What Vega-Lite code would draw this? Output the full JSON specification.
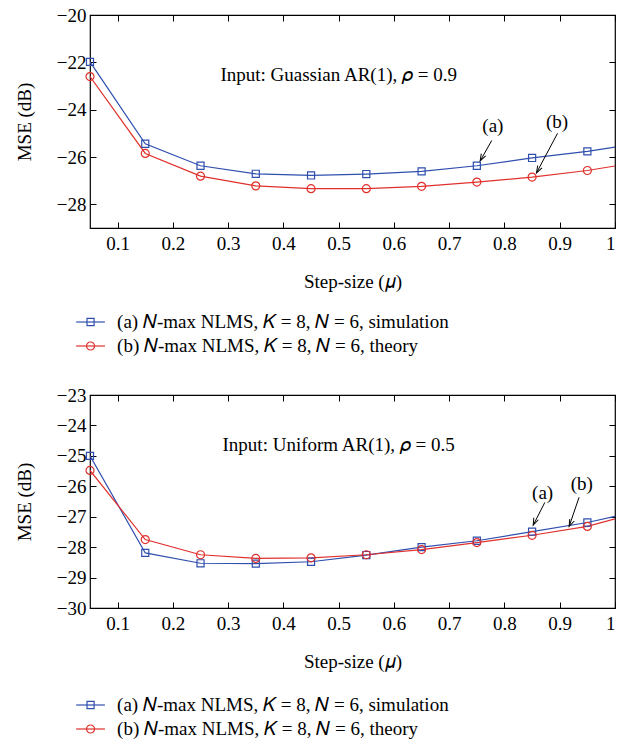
{
  "$schema": "https://vega.github.io/schema/vega-lite/v6.json",
  "padding": {"left": 14, "top": 5, "right": 2, "bottom": 0},
  "config": {
    "font": "Liberation Serif",
    "view": {"stroke": "black", "strokeWidth": 1.2},
    "axis": {"labelFont": "Liberation Serif", "labelFontSize": 19, "labelColor": "black", "titleFont": "Liberation Serif", "titleFontSize": 19, "titleFontWeight": "normal", "titleColor": "black", "domain": false, "grid": false, "tickColor": "black", "tickSize": -6, "labelPadding": 10},
    "axisBottom": {"labelPadding": 12, "labelFont": "Liberation Serif", "titleFont": "Liberation Serif"},
    "axisLeft": {"labelFont": "Liberation Serif", "titleFont": "Liberation Serif"},
    "text": {"font": "Liberation Serif", "fontSize": 19, "color": "black"}
  },
  "datasets": {
    "top": [
      {"mu": 0.05, "mse": -21.98, "series": "a"}, {"mu": 0.15, "mse": -25.44, "series": "a"}, {"mu": 0.25, "mse": -26.37, "series": "a"}, {"mu": 0.35, "mse": -26.71, "series": "a"}, {"mu": 0.45, "mse": -26.78, "series": "a"}, {"mu": 0.55, "mse": -26.72, "series": "a"}, {"mu": 0.65, "mse": -26.61, "series": "a"}, {"mu": 0.75, "mse": -26.37, "series": "a"}, {"mu": 0.85, "mse": -26.04, "series": "a"}, {"mu": 0.95, "mse": -25.76, "series": "a"}, {"mu": 1.0, "mse": -25.58, "series": "a"},
      {"mu": 0.05, "mse": -22.6, "series": "b"}, {"mu": 0.15, "mse": -25.85, "series": "b"}, {"mu": 0.25, "mse": -26.81, "series": "b"}, {"mu": 0.35, "mse": -27.22, "series": "b"}, {"mu": 0.45, "mse": -27.34, "series": "b"}, {"mu": 0.55, "mse": -27.34, "series": "b"}, {"mu": 0.65, "mse": -27.24, "series": "b"}, {"mu": 0.75, "mse": -27.06, "series": "b"}, {"mu": 0.85, "mse": -26.85, "series": "b"}, {"mu": 0.95, "mse": -26.57, "series": "b"}, {"mu": 1.0, "mse": -26.38, "series": "b"}
    ],
    "bottom": [
      {"mu": 0.05, "mse": -25.0, "series": "a"}, {"mu": 0.15, "mse": -28.19, "series": "a"}, {"mu": 0.25, "mse": -28.53, "series": "a"}, {"mu": 0.35, "mse": -28.54, "series": "a"}, {"mu": 0.45, "mse": -28.48, "series": "a"}, {"mu": 0.55, "mse": -28.26, "series": "a"}, {"mu": 0.65, "mse": -28.0, "series": "a"}, {"mu": 0.75, "mse": -27.79, "series": "a"}, {"mu": 0.85, "mse": -27.49, "series": "a"}, {"mu": 0.95, "mse": -27.19, "series": "a"}, {"mu": 1.0, "mse": -26.99, "series": "a"},
      {"mu": 0.05, "mse": -25.48, "series": "b"}, {"mu": 0.15, "mse": -27.75, "series": "b"}, {"mu": 0.25, "mse": -28.25, "series": "b"}, {"mu": 0.35, "mse": -28.37, "series": "b"}, {"mu": 0.45, "mse": -28.35, "series": "b"}, {"mu": 0.55, "mse": -28.25, "series": "b"}, {"mu": 0.65, "mse": -28.08, "series": "b"}, {"mu": 0.75, "mse": -27.85, "series": "b"}, {"mu": 0.85, "mse": -27.61, "series": "b"}, {"mu": 0.95, "mse": -27.32, "series": "b"}, {"mu": 1.0, "mse": -27.07, "series": "b"}
    ],
    "topNotes": [
      {"label": "(a)", "lx": 0.779, "ly": -24.7, "x1": 0.777, "y1": -25.3, "x2": 0.756, "y2": -26.17},
      {"label": "(b)", "lx": 0.895, "ly": -24.52, "x1": 0.896, "y1": -25.0, "x2": 0.858, "y2": -26.67}
    ],
    "bottomNotes": [
      {"label": "(a)", "lx": 0.869, "ly": -26.22, "x1": 0.873, "y1": -26.53, "x2": 0.852, "y2": -27.28},
      {"label": "(b)", "lx": 0.94, "ly": -25.92, "x1": 0.935, "y1": -26.36, "x2": 0.917, "y2": -27.32}
    ],
    "legend": [
      {"series": "a", "label": "(a) 𝑁-max NLMS, 𝐾 = 8, 𝑁 = 6, simulation"},
      {"series": "b", "label": "(b) 𝑁-max NLMS, 𝐾 = 8, 𝑁 = 6, theory"}
    ]
  },
  "spacing": 27,
  "vconcat": [
    {
      "spacing": 18,
      "vconcat": [
        {
          "width": 525, "height": 213,
          "resolve": {"axis": {"x": "independent", "y": "independent"}},
          "layer": [
            {
              "data": {"name": "top"},
              "mark": {"type": "line", "strokeWidth": 1.2, "clip": true},
              "encoding": {
                "x": {"field": "mu", "type": "quantitative", "scale": {"domain": [0.05, 1], "nice": false, "zero": false}, "axis": {"orient": "bottom", "title": "Step-size (𝜇)", "values": [0.1, 0.2, 0.3, 0.4, 0.5, 0.6, 0.7, 0.8, 0.9, 1], "format": "~g", "titlePadding": 19}},
                "y": {"field": "mse", "type": "quantitative", "scale": {"domain": [-29, -20], "nice": false, "zero": false}, "axis": {"orient": "left", "title": "MSE (dB)", "values": [-28, -26, -24, -22, -20], "format": "d", "titlePadding": 22}},
                "color": {"field": "series", "type": "nominal", "scale": {"domain": ["a", "b"], "range": ["#2f4fae", "#e0302c"]}, "legend": null}
              }
            },
            {
              "data": {"name": "top"},
              "transform": [{"filter": "datum.mu < 1"}],
              "mark": {"type": "point", "filled": false, "strokeWidth": 1.2, "opacity": 1},
              "encoding": {
                "x": {"field": "mu", "type": "quantitative", "scale": {"domain": [0.05, 1], "nice": false, "zero": false}, "axis": {"orient": "top", "labels": false, "title": null, "values": [0.1, 0.2, 0.3, 0.4, 0.5, 0.6, 0.7, 0.8, 0.9, 1]}},
                "y": {"field": "mse", "type": "quantitative", "scale": {"domain": [-29, -20], "nice": false, "zero": false}, "axis": {"orient": "right", "labels": false, "title": null, "values": [-28, -26, -24, -22, -20]}},
                "color": {"field": "series", "type": "nominal", "scale": {"domain": ["a", "b"], "range": ["#2f4fae", "#e0302c"]}, "legend": null},
                "shape": {"field": "series", "type": "nominal", "scale": {"domain": ["a", "b"], "range": ["square", "circle"]}, "legend": null},
                "size": {"field": "series", "type": "nominal", "scale": {"domain": ["a", "b"], "range": [50, 64]}, "legend": null}
              }
            },
            {
              "data": {"values": [{"text": "Input: Guassian AR(1), 𝜌 = 0.9"}]},
              "mark": {"type": "text", "align": "center", "baseline": "middle"},
              "encoding": {
                "x": {"datum": 0.5, "type": "quantitative", "scale": {"domain": [0.05, 1], "nice": false, "zero": false}, "axis": null},
                "y": {"datum": -22.55, "type": "quantitative", "scale": {"domain": [-29, -20], "nice": false, "zero": false}, "axis": null},
                "text": {"field": "text", "type": "nominal"}
              }
            },
            {
              "data": {"name": "topNotes"},
              "mark": {"type": "rule", "color": "black", "strokeWidth": 1},
              "encoding": {
                "x": {"field": "x1", "type": "quantitative", "scale": {"domain": [0.05, 1], "nice": false, "zero": false}, "axis": null},
                "y": {"field": "y1", "type": "quantitative", "scale": {"domain": [-29, -20], "nice": false, "zero": false}, "axis": null},
                "x2": {"field": "x2"},
                "y2": {"field": "y2"}
              }
            },
            {
              "data": {"name": "topNotes"},
              "mark": {"type": "point", "shape": "M-0.35,-1L0,0L0.35,-1", "filled": false, "color": "black", "strokeWidth": 1, "size": 200, "angle": 28, "opacity": 1},
              "encoding": {
                "x": {"field": "x2", "type": "quantitative", "scale": {"domain": [0.05, 1], "nice": false, "zero": false}, "axis": null},
                "y": {"field": "y2", "type": "quantitative", "scale": {"domain": [-29, -20], "nice": false, "zero": false}, "axis": null}
              }
            },
            {
              "data": {"name": "topNotes"},
              "mark": {"type": "text", "align": "center", "baseline": "middle"},
              "encoding": {
                "x": {"field": "lx", "type": "quantitative", "scale": {"domain": [0.05, 1], "nice": false, "zero": false}, "axis": null},
                "y": {"field": "ly", "type": "quantitative", "scale": {"domain": [-29, -20], "nice": false, "zero": false}, "axis": null},
                "text": {"field": "label", "type": "nominal"}
              }
            }
          ]
        },
        {
          "width": 525, "height": 48,
          "view": {"stroke": null},
          "data": {"name": "legend"},
          "layer": [
            {
              "mark": {"type": "rule", "strokeWidth": 1.2},
              "encoding": {
                "x": {"datum": 0.025, "type": "quantitative", "scale": {"domain": [0.05, 1], "nice": false, "zero": false}, "axis": null},
                "x2": {"datum": 0.077},
                "y": {"field": "series", "type": "nominal", "scale": {"type": "point", "domain": ["a", "b"], "padding": 0.5}, "axis": null},
                "color": {"field": "series", "type": "nominal", "scale": {"domain": ["a", "b"], "range": ["#2f4fae", "#e0302c"]}, "legend": null}
              }
            },
            {
              "mark": {"type": "point", "filled": false, "strokeWidth": 1.2, "opacity": 1},
              "encoding": {
                "x": {"datum": 0.051, "type": "quantitative", "scale": {"domain": [0.05, 1], "nice": false, "zero": false}, "axis": null},
                "y": {"field": "series", "type": "nominal", "scale": {"type": "point", "domain": ["a", "b"], "padding": 0.5}, "axis": null},
                "color": {"field": "series", "type": "nominal", "scale": {"domain": ["a", "b"], "range": ["#2f4fae", "#e0302c"]}, "legend": null},
                "shape": {"field": "series", "type": "nominal", "scale": {"domain": ["a", "b"], "range": ["square", "circle"]}, "legend": null},
                "size": {"field": "series", "type": "nominal", "scale": {"domain": ["a", "b"], "range": [100, 160]}, "legend": null}
              }
            },
            {
              "mark": {"type": "text", "align": "left", "baseline": "middle", "fontSize": 19},
              "encoding": {
                "x": {"datum": 0.099, "type": "quantitative", "scale": {"domain": [0.05, 1], "nice": false, "zero": false}, "axis": null},
                "y": {"field": "series", "type": "nominal", "scale": {"type": "point", "domain": ["a", "b"], "padding": 0.5}, "axis": null},
                "text": {"field": "label", "type": "nominal"}
              }
            }
          ]
        }
      ]
    },
    {
      "spacing": 21,
      "vconcat": [
        {
          "width": 525, "height": 213,
          "resolve": {"axis": {"x": "independent", "y": "independent"}},
          "layer": [
            {
              "data": {"name": "bottom"},
              "mark": {"type": "line", "strokeWidth": 1.2, "clip": true},
              "encoding": {
                "x": {"field": "mu", "type": "quantitative", "scale": {"domain": [0.05, 1], "nice": false, "zero": false}, "axis": {"orient": "bottom", "title": "Step-size (𝜇)", "values": [0.1, 0.2, 0.3, 0.4, 0.5, 0.6, 0.7, 0.8, 0.9, 1], "format": "~g", "titlePadding": 19}},
                "y": {"field": "mse", "type": "quantitative", "scale": {"domain": [-30, -23], "nice": false, "zero": false}, "axis": {"orient": "left", "title": "MSE (dB)", "values": [-30, -29, -28, -27, -26, -25, -24, -23], "format": "d", "titlePadding": 22}},
                "color": {"field": "series", "type": "nominal", "scale": {"domain": ["a", "b"], "range": ["#2f4fae", "#e0302c"]}, "legend": null}
              }
            },
            {
              "data": {"name": "bottom"},
              "transform": [{"filter": "datum.mu < 1"}],
              "mark": {"type": "point", "filled": false, "strokeWidth": 1.2, "opacity": 1},
              "encoding": {
                "x": {"field": "mu", "type": "quantitative", "scale": {"domain": [0.05, 1], "nice": false, "zero": false}, "axis": {"orient": "top", "labels": false, "title": null, "values": [0.1, 0.2, 0.3, 0.4, 0.5, 0.6, 0.7, 0.8, 0.9, 1]}},
                "y": {"field": "mse", "type": "quantitative", "scale": {"domain": [-30, -23], "nice": false, "zero": false}, "axis": {"orient": "right", "labels": false, "title": null, "values": [-30, -29, -28, -27, -26, -25, -24, -23]}},
                "color": {"field": "series", "type": "nominal", "scale": {"domain": ["a", "b"], "range": ["#2f4fae", "#e0302c"]}, "legend": null},
                "shape": {"field": "series", "type": "nominal", "scale": {"domain": ["a", "b"], "range": ["square", "circle"]}, "legend": null},
                "size": {"field": "series", "type": "nominal", "scale": {"domain": ["a", "b"], "range": [50, 64]}, "legend": null}
              }
            },
            {
              "data": {"values": [{"text": "Input: Uniform AR(1), 𝜌 = 0.5"}]},
              "mark": {"type": "text", "align": "center", "baseline": "middle"},
              "encoding": {
                "x": {"datum": 0.5, "type": "quantitative", "scale": {"domain": [0.05, 1], "nice": false, "zero": false}, "axis": null},
                "y": {"datum": -24.65, "type": "quantitative", "scale": {"domain": [-30, -23], "nice": false, "zero": false}, "axis": null},
                "text": {"field": "text", "type": "nominal"}
              }
            },
            {
              "data": {"name": "bottomNotes"},
              "mark": {"type": "rule", "color": "black", "strokeWidth": 1},
              "encoding": {
                "x": {"field": "x1", "type": "quantitative", "scale": {"domain": [0.05, 1], "nice": false, "zero": false}, "axis": null},
                "y": {"field": "y1", "type": "quantitative", "scale": {"domain": [-30, -23], "nice": false, "zero": false}, "axis": null},
                "x2": {"field": "x2"},
                "y2": {"field": "y2"}
              }
            },
            {
              "data": {"name": "bottomNotes"},
              "mark": {"type": "point", "shape": "M-0.35,-1L0,0L0.35,-1", "filled": false, "color": "black", "strokeWidth": 1, "size": 200, "angle": 24, "opacity": 1},
              "encoding": {
                "x": {"field": "x2", "type": "quantitative", "scale": {"domain": [0.05, 1], "nice": false, "zero": false}, "axis": null},
                "y": {"field": "y2", "type": "quantitative", "scale": {"domain": [-30, -23], "nice": false, "zero": false}, "axis": null}
              }
            },
            {
              "data": {"name": "bottomNotes"},
              "mark": {"type": "text", "align": "center", "baseline": "middle"},
              "encoding": {
                "x": {"field": "lx", "type": "quantitative", "scale": {"domain": [0.05, 1], "nice": false, "zero": false}, "axis": null},
                "y": {"field": "ly", "type": "quantitative", "scale": {"domain": [-30, -23], "nice": false, "zero": false}, "axis": null},
                "text": {"field": "label", "type": "nominal"}
              }
            }
          ]
        },
        {
          "width": 525, "height": 48,
          "view": {"stroke": null},
          "data": {"name": "legend"},
          "layer": [
            {
              "mark": {"type": "rule", "strokeWidth": 1.2},
              "encoding": {
                "x": {"datum": 0.025, "type": "quantitative", "scale": {"domain": [0.05, 1], "nice": false, "zero": false}, "axis": null},
                "x2": {"datum": 0.077},
                "y": {"field": "series", "type": "nominal", "scale": {"type": "point", "domain": ["a", "b"], "padding": 0.5}, "axis": null},
                "color": {"field": "series", "type": "nominal", "scale": {"domain": ["a", "b"], "range": ["#2f4fae", "#e0302c"]}, "legend": null}
              }
            },
            {
              "mark": {"type": "point", "filled": false, "strokeWidth": 1.2, "opacity": 1},
              "encoding": {
                "x": {"datum": 0.051, "type": "quantitative", "scale": {"domain": [0.05, 1], "nice": false, "zero": false}, "axis": null},
                "y": {"field": "series", "type": "nominal", "scale": {"type": "point", "domain": ["a", "b"], "padding": 0.5}, "axis": null},
                "color": {"field": "series", "type": "nominal", "scale": {"domain": ["a", "b"], "range": ["#2f4fae", "#e0302c"]}, "legend": null},
                "shape": {"field": "series", "type": "nominal", "scale": {"domain": ["a", "b"], "range": ["square", "circle"]}, "legend": null},
                "size": {"field": "series", "type": "nominal", "scale": {"domain": ["a", "b"], "range": [100, 160]}, "legend": null}
              }
            },
            {
              "mark": {"type": "text", "align": "left", "baseline": "middle", "fontSize": 19},
              "encoding": {
                "x": {"datum": 0.099, "type": "quantitative", "scale": {"domain": [0.05, 1], "nice": false, "zero": false}, "axis": null},
                "y": {"field": "series", "type": "nominal", "scale": {"type": "point", "domain": ["a", "b"], "padding": 0.5}, "axis": null},
                "text": {"field": "label", "type": "nominal"}
              }
            }
          ]
        }
      ]
    }
  ]
}
